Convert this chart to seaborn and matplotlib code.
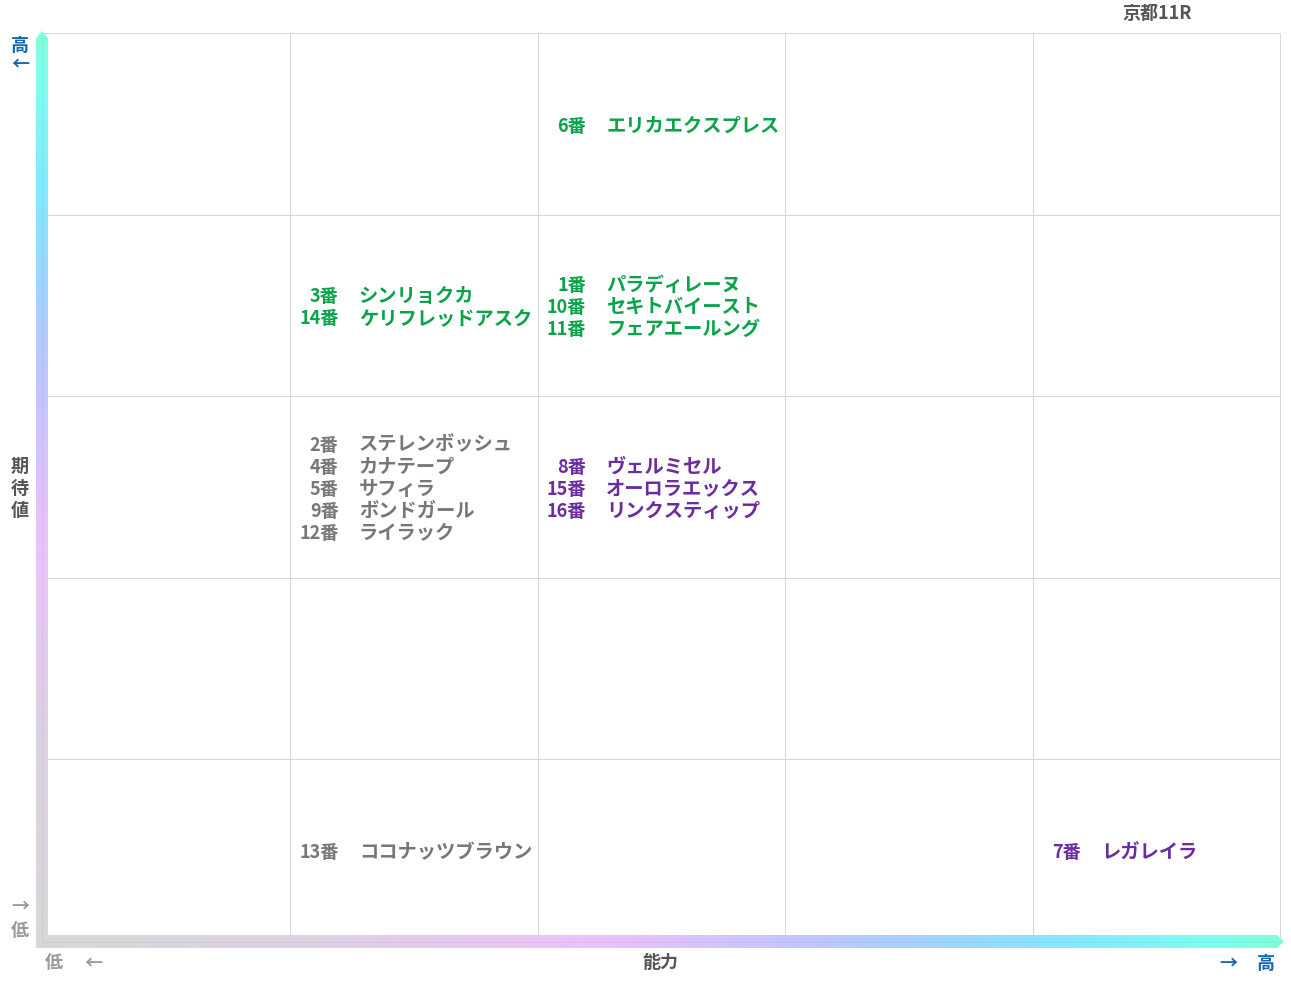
import numpy as np
import pandas as pd
import matplotlib
matplotlib.use("Agg")
import matplotlib.pyplot as plt
import seaborn as sns
from matplotlib.colors import ListedColormap, LinearSegmentedColormap
from matplotlib.patches import Polygon

# ---- data -------------------------------------------------------------
race_title = "京都11R"
horse_numbers = [6, 3, 14, 1, 10, 11, 2, 4, 5, 9, 12, 8, 15, 16, 13, 7]
horse_names = ["エリカエクスプレス", "シンリョクカ", "ケリフレッドアスク",
               "パラディレーヌ", "セキトバイースト", "フェアエールング",
               "ステレンボッシュ", "カナテープ", "サフィラ", "ボンドガール", "ライラック",
               "ヴェルミセル", "オーロラエックス", "リンクスティップ",
               "ココナッツブラウン", "レガレイラ"]
ability = [3, 2, 2, 3, 3, 3, 2, 2, 2, 2, 2, 3, 3, 3, 2, 5]       # 能力 (1-5)
expectation = [5, 4, 4, 4, 4, 4, 3, 3, 3, 3, 3, 3, 3, 3, 1, 1]   # 期待値 (1-5)
tier = ["green", "green", "green", "green", "green", "green",
        "gray", "gray", "gray", "gray", "gray",
        "purple", "purple", "purple", "gray", "purple"]

tier_colors = {"green": "#0AA34A", "gray": "#777777", "purple": "#6A2C9E"}
n_levels = 5

df = pd.DataFrame({"num": horse_numbers, "name": horse_names,
                   "ability": ability, "expect": expectation, "tier": tier})

# ---- figure -----------------------------------------------------------
W, H = 1291, 983
sns.set_theme(style="white")
plt.rcParams["font.family"] = ["Noto Sans CJK JP", "DejaVu Sans"]
plt.rcParams["font.weight"] = "bold"

fig = plt.figure(figsize=(W / 100, H / 100), dpi=100)
fig.patch.set_facecolor("white")

# plotting area in pixels
left_px, right_px, top_px, bottom_px = 43, 1280, 33, 941
ax = fig.add_axes([left_px / W, (H - bottom_px) / H,
                   (right_px - left_px) / W, (bottom_px - top_px) / H])

# 5x5 grid of cells
sns.heatmap(np.zeros((n_levels, n_levels)), ax=ax,
            cmap=ListedColormap(["white"]), cbar=False,
            linewidths=0.45, linecolor="#D6D6D6",
            xticklabels=False, yticklabels=False)
ax.collections[0].set_clip_on(False)
ax.set_xlim(0, n_levels)
ax.set_ylim(0, n_levels)
for s in ax.spines.values():
    s.set_visible(False)

# horse labels inside their cells
line_gap_pt = 22 * 0.72
num_edge_pt = 48 * 0.72
name_edge_pt = 68.5 * 0.72
shift_pt = -2.2 * 0.72
for (a, e), grp in df.groupby(["ability", "expect"]):
    grp = grp.sort_values("num")
    k = len(grp)
    for i, row in enumerate(grp.itertuples()):
        dy = ((k - 1) / 2 - i) * line_gap_pt + shift_pt
        col = tier_colors[row.tier]
        ax.annotate(f"{row.num}番", xy=(a - 1, e - 0.5), xytext=(num_edge_pt, dy),
                    textcoords="offset points", ha="right", va="center",
                    fontsize=13, fontweight="bold", color=col)
        ax.annotate(row.name, xy=(a - 1, e - 0.5), xytext=(name_edge_pt, dy),
                    textcoords="offset points", ha="left", va="center",
                    fontsize=13.9, fontweight="bold", color=col)

# ---- gradient axis bars and outer labels ------------------------------
ov = fig.add_axes([0, 0, 1, 1], zorder=5)
ov.set_axis_off()

bar_cmap = LinearSegmentedColormap.from_list(
    "bar", [(0.0, "#D8D8D8"), (0.22, "#DDD3E3"), (0.45, "#EBC2FB"),
            (0.62, "#C2C6FF"), (0.72, "#A2D3FF"), (0.83, "#84EAFF"),
            (0.94, "#80FCF2"), (1.0, "#80FFD8")])

x0, x1 = 36, 48
y0, y1 = 935, 948
vert_poly = Polygon([(x0, y1), (x0, 38), ((x0 + x1) / 2, 31), (x1, 38), (x1, y0)],
                    closed=True, facecolor="none", edgecolor="none")
horiz_poly = Polygon([(x0, y1), (x1, y0), (1277, y0), (1284, (y0 + y1) / 2), (1277, y1)],
                     closed=True, facecolor="none", edgecolor="none")
ov.add_patch(vert_poly)
ov.add_patch(horiz_poly)

tv = np.linspace(1, 0, 400).reshape(-1, 1)
im_v = ov.imshow(tv, extent=(x0, x1, y1, 31), cmap=bar_cmap, vmin=0, vmax=1,
                 aspect="auto", origin="upper", interpolation="bilinear")
im_v.set_clip_path(vert_poly)
th = np.linspace(0, 1, 800).reshape(1, -1)
im_h = ov.imshow(th, extent=(x0, 1284, y1, y0), cmap=bar_cmap, vmin=0, vmax=1,
                 aspect="auto", origin="upper", interpolation="bilinear")
im_h.set_clip_path(horiz_poly)

# faint centre crease on the bars
ov.plot([42, 42], [37, 941.5], color="black", alpha=0.05, lw=0.8)
ov.plot([42, 1281], [941.5, 941.5], color="black", alpha=0.05, lw=0.8)

ov.set_xlim(0, W)
ov.set_ylim(H, 0)

blue = "#1466B4"
dark = "#555555"
light = "#999999"
fs = 13
ov.text(1157, 13, race_title, ha="center", va="center", fontsize=13,
        fontweight="bold", color=dark)
ov.text(20, 45, "高", ha="center", va="center", fontsize=fs, fontweight="bold", color=blue)
ov.text(20, 64, "←", ha="center", va="center", fontsize=fs, fontweight="bold", color=blue)
for i, ch in enumerate("期待値"):
    ov.text(20, 466 + 22 * i, ch, ha="center", va="center", fontsize=fs,
            fontweight="bold", color=dark)
ov.text(20, 906, "→", ha="center", va="center", fontsize=fs, fontweight="bold", color=light)
ov.text(20, 930, "低", ha="center", va="center", fontsize=fs, fontweight="bold", color=light)
ov.text(54, 963, "低", ha="center", va="center", fontsize=fs, fontweight="bold", color=light)
ov.text(93, 963, "←", ha="center", va="center", fontsize=fs, fontweight="bold", color=light)
ov.text(660, 963, "能力", ha="center", va="center", fontsize=fs, fontweight="bold", color=dark)
ov.text(1228, 963, "→", ha="center", va="center", fontsize=fs, fontweight="bold", color=blue)
ov.text(1266, 963, "高", ha="center", va="center", fontsize=fs, fontweight="bold", color=blue)

fig.savefig("out.png", dpi=100, facecolor="white")
